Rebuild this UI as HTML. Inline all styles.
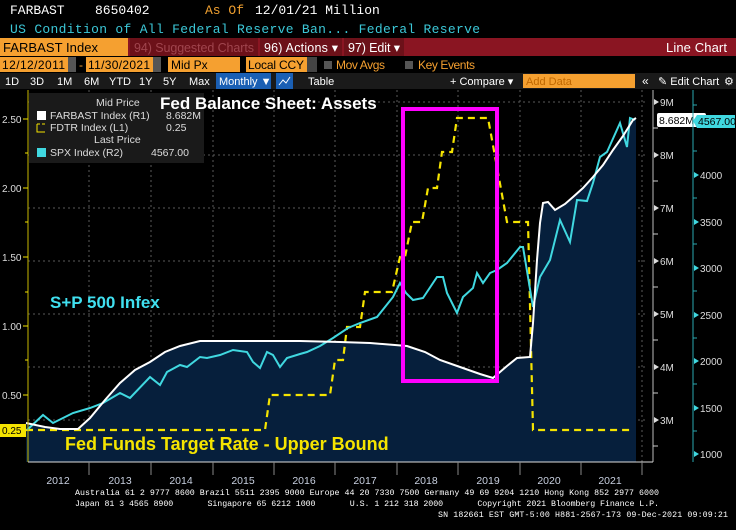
<!DOCTYPE html>
<html><head><meta charset="utf-8"><style>
html,body{margin:0;padding:0;background:#000;width:736px;height:530px;overflow:hidden}
svg{display:block}
.m{font-family:"Liberation Mono",monospace}
.s{font-family:"Liberation Sans",sans-serif}
</style></head><body>
<svg width="736" height="530" viewBox="0 0 736 530" xmlns="http://www.w3.org/2000/svg">
<rect width="736" height="530" fill="#000"/>
<text x="10" y="14" class="m" font-size="13" fill="#fff">FARBAST</text>
<text x="95" y="14" class="m" font-size="13" fill="#fff">8650402</text>
<text x="205" y="14" class="m" font-size="13" fill="#f0a030">As Of</text>
<text x="255" y="14" class="m" font-size="13" fill="#fff">12/01/21  Million</text>
<text x="10" y="33" class="m" font-size="13" fill="#3cc8d8" textLength="470">US Condition of All Federal Reserve Ban...  Federal Reserve</text>
<rect x="0" y="38" width="736" height="18" fill="#8a1522"/>
<rect x="0" y="38" width="128" height="18" fill="#f5a030"/>
<text x="3" y="52" class="s" font-size="13" fill="#000" textLength="95">FARBAST Index</text>
<rect x="130" y="38" width="128" height="18" fill="#6c1119"/>
<text x="134" y="52" class="s" font-size="12.5" fill="#a0454e" textLength="120">94) Suggested Charts</text>
<rect x="260" y="38" width="82" height="18" fill="#6c1119"/>
<text x="264" y="52" class="s" font-size="12.5" fill="#fff" textLength="74">96) Actions ▾</text>
<rect x="344" y="38" width="60" height="18" fill="#6c1119"/>
<text x="348" y="52" class="s" font-size="12.5" fill="#fff" textLength="52">97) Edit ▾</text>
<text x="666" y="52" class="s" font-size="13" fill="#fff" textLength="61">Line Chart</text>
<rect x="0" y="57" width="68" height="15" fill="#f5a030"/>
<text x="2" y="69" class="s" font-size="12" fill="#000" textLength="63">12/12/2011</text>
<rect x="68" y="57" width="8" height="15" fill="#555"/>
<text x="79" y="69" class="s" font-size="12" fill="#f5a030">-</text>
<rect x="86" y="57" width="67" height="15" fill="#f5a030"/>
<text x="88" y="69" class="s" font-size="12" fill="#000" textLength="62">11/30/2021</text>
<rect x="153" y="57" width="8" height="15" fill="#555"/>
<rect x="168" y="57" width="72" height="15" fill="#f5a030"/>
<text x="171" y="69" class="s" font-size="12" fill="#000">Mid Px</text>
<rect x="246" y="57" width="61" height="15" fill="#f5a030"/>
<text x="248" y="69" class="s" font-size="12" fill="#000" textLength="56">Local CCY</text>
<rect x="307" y="57" width="10" height="15" fill="#444"/>
<rect x="324" y="61" width="8" height="8" fill="#555"/>
<text x="336" y="69" class="s" font-size="12" fill="#f5a030" textLength="49">Mov Avgs</text>
<rect x="405" y="61" width="8" height="8" fill="#555"/>
<text x="418" y="69" class="s" font-size="12" fill="#f5a030" textLength="57">Key Events</text>
<rect x="0" y="73" width="736" height="16" fill="#1a1a1a"/>
<g class="s" font-size="11" fill="#fff">
<text x="5" y="85">1D</text><text x="30" y="85">3D</text><text x="57" y="85">1M</text><text x="84" y="85">6M</text>
<text x="109" y="85">YTD</text><text x="139" y="85">1Y</text><text x="163" y="85">5Y</text><text x="189" y="85">Max</text>
</g>
<rect x="216" y="73" width="55" height="16" fill="#1a5fb4"/>
<text x="219" y="85" class="s" font-size="11" fill="#fff">Monthly ▼</text>
<rect x="276" y="73" width="17" height="16" fill="#1a5fb4"/>
<polyline points="279,85 283,80 286,83 290,77" fill="none" stroke="#fff" stroke-width="1"/>
<text x="308" y="85" class="s" font-size="11" fill="#fff">Table</text>
<text x="450" y="85" class="s" font-size="11" fill="#fff">+ Compare ▾</text>
<rect x="523" y="74" width="112" height="14" fill="#f5a030"/>
<text x="526" y="85" class="s" font-size="11" fill="#c06800">Add Data</text>
<text x="642" y="85" class="s" font-size="12" fill="#fff">«</text>
<text x="658" y="85" class="s" font-size="11" fill="#fff">✎ Edit Chart</text>
<text x="724" y="85" class="s" font-size="11" fill="#fff">⚙</text>

<g stroke="#5a5a5a" stroke-width="1" stroke-dasharray="2,3">
<line x1="28" y1="102" x2="648" y2="102"/><line x1="28" y1="155" x2="648" y2="155"/>
<line x1="28" y1="208" x2="648" y2="208"/><line x1="28" y1="261" x2="648" y2="261"/>
<line x1="28" y1="314" x2="648" y2="314"/><line x1="28" y1="367" x2="648" y2="367"/>
<line x1="28" y1="420" x2="648" y2="420"/>
<line x1="89" y1="90" x2="89" y2="462"/><line x1="151" y1="90" x2="151" y2="462"/>
<line x1="213" y1="90" x2="213" y2="462"/><line x1="274" y1="90" x2="274" y2="462"/>
<line x1="335" y1="90" x2="335" y2="462"/><line x1="397" y1="90" x2="397" y2="462"/>
<line x1="458" y1="90" x2="458" y2="462"/><line x1="520" y1="90" x2="520" y2="462"/>
<line x1="581" y1="90" x2="581" y2="462"/><line x1="642" y1="90" x2="642" y2="462"/>
</g>

<polygon fill="#061f3c" points="26,423 45,427 60,429 78,429 90,418 105,400 120,383 135,370 150,362 165,352 180,346 200,341 230,341 260,341 300,341 340,342 370,343 407,346 425,352 440,360 460,367 480,374 493,378 500,372 507,366 517,358 530,357 533,323 537,260 540,223 543,203 548,202 555,210 565,204 573,197 583,188 593,177 603,165 613,150 623,136 633,120 636,118 636,462 26,462"/>

<polyline fill="none" stroke="#f5e400" stroke-width="2.2" stroke-dasharray="7,5" points="26,430 265,430 270,395 330,395 335,360 343,360 347,327 360,327 365,292 392,292 400,257 405,257 412,222 422,222 428,188 437,188 442,152 452,152 457,118 488,118 507,222 528,222 533,430 633,430"/>

<polyline fill="none" stroke="#40d8e0" stroke-width="2" points="27,430 43,415 53,423 73,413 90,408 103,403 120,393 130,398 150,377 160,385 167,372 180,365 187,367 200,357 207,358 220,355 233,350 247,352 253,362 260,368 267,352 273,355 280,367 287,358 300,354 307,352 320,346 333,338 348,328 360,323 377,317 393,297 400,283 406,293 413,300 423,298 437,277 443,277 447,293 457,313 463,297 473,288 477,273 483,283 490,273 497,270 507,263 520,247 523,247 533,307 540,277 550,260 560,220 570,242 577,200 587,201 593,183 600,157 607,152 620,123 627,147 630,118 635,120"/>

<polyline fill="none" stroke="#fff" stroke-width="2" points="26,423 45,427 60,429 78,429 90,418 105,400 120,383 135,370 150,362 165,352 180,346 200,341 230,341 260,341 300,341 340,342 370,343 407,346 425,352 440,360 460,367 480,374 493,378 500,372 507,366 517,358 530,357 533,323 537,260 540,223 543,203 548,202 555,210 565,204 573,197 583,188 593,177 603,165 613,150 623,136 633,120 636,118"/>

<rect x="403" y="109" width="94" height="272" fill="none" stroke="#ff00ff" stroke-width="4"/>

<!-- legend -->
<rect x="29" y="93" width="175" height="70" fill="#1a1a1a"/>
<g class="s" font-size="10.5" fill="#ddd">
<text x="96" y="106">Mid Price</text>
<rect x="37" y="111" width="9" height="9" fill="#fff"/>
<text x="50" y="119">FARBAST Index  (R1)</text><text x="166" y="119">8.682M</text>
<path d="M37,124 v8 h8 M37,124 h3 M42,124 h3" stroke="#f5e400" fill="none"/>
<text x="50" y="131">FDTR Index  (L1)</text><text x="166" y="131">0.25</text>
<text x="94" y="143">Last Price</text>
<rect x="37" y="148" width="9" height="9" fill="#40d8e0"/>
<text x="50" y="156">SPX Index  (R2)</text><text x="151" y="156">4567.00</text>
</g>

<text x="160" y="109" class="s" font-size="17" font-weight="bold" fill="#fff">Fed Balance Sheet: Assets</text>
<text x="50" y="308" class="s" font-size="17" font-weight="bold" fill="#40e0f0">S+P 500 Infex</text>
<text x="65" y="450" class="s" font-size="18" font-weight="bold" fill="#f5e400">Fed Funds Target Rate - Upper Bound</text>

<line x1="28" y1="90" x2="28" y2="462" stroke="#c8b800" stroke-width="1"/>
<g stroke="#f5e400"><line x1="23" y1="119" x2="28" y2="119"/><line x1="23" y1="188" x2="28" y2="188"/><line x1="23" y1="257" x2="28" y2="257"/><line x1="23" y1="326" x2="28" y2="326"/><line x1="23" y1="395" x2="28" y2="395"/>
<line x1="25" y1="153" x2="28" y2="153"/><line x1="25" y1="222" x2="28" y2="222"/><line x1="25" y1="292" x2="28" y2="292"/><line x1="25" y1="360" x2="28" y2="360"/></g>
<g class="s" font-size="10" fill="#ddd"><text x="2" y="123">2.50</text><text x="2" y="192">2.00</text><text x="2" y="261">1.50</text><text x="2" y="330">1.00</text><text x="2" y="399">0.50</text></g>
<rect x="0" y="424" width="26" height="13" fill="#f5e400"/>
<text x="2" y="434" class="s" font-size="10" fill="#000">0.25</text>

<line x1="653" y1="90" x2="653" y2="462" stroke="#bbb"/>
<g stroke="#ccc"><line x1="653" y1="128" x2="658" y2="128"/><line x1="653" y1="181" x2="658" y2="181"/><line x1="653" y1="234" x2="658" y2="234"/><line x1="653" y1="287" x2="658" y2="287"/><line x1="653" y1="340" x2="658" y2="340"/><line x1="653" y1="393" x2="658" y2="393"/><line x1="653" y1="446" x2="658" y2="446"/></g>
<g fill="#ddd"><path d="M654,99 l5,3 l-5,3z M654,152 l5,3 l-5,3z M654,205 l5,3 l-5,3z M654,258 l5,3 l-5,3z M654,311 l5,3 l-5,3z M654,364 l5,3 l-5,3z M654,417 l5,3 l-5,3z"/></g>
<g class="s" font-size="10" fill="#ddd"><text x="660" y="106">9M</text><text x="660" y="159">8M</text><text x="660" y="212">7M</text><text x="660" y="265">6M</text><text x="660" y="318">5M</text><text x="660" y="371">4M</text><text x="660" y="424">3M</text></g>
<rect x="657" y="113" width="49" height="14" fill="#fff" rx="2"/>
<text x="659" y="124" class="s" font-size="10.5" fill="#000">8.682M</text>
<line x1="693" y1="90" x2="693" y2="462" stroke="#2aa8b0"/>
<g stroke="#2aa8b0"><line x1="693" y1="105" x2="697" y2="105"/><line x1="693" y1="151" x2="697" y2="151"/><line x1="693" y1="198" x2="697" y2="198"/><line x1="693" y1="244" x2="697" y2="244"/><line x1="693" y1="291" x2="697" y2="291"/><line x1="693" y1="338" x2="697" y2="338"/><line x1="693" y1="384" x2="697" y2="384"/><line x1="693" y1="431" x2="697" y2="431"/></g>
<g fill="#40d8e0"><path d="M694,172 l5,3 l-5,3z M694,219 l5,3 l-5,3z M694,265 l5,3 l-5,3z M694,312 l5,3 l-5,3z M694,358 l5,3 l-5,3z M694,405 l5,3 l-5,3z M694,451 l5,3 l-5,3z"/></g>
<g class="s" font-size="10" fill="#ddd"><text x="700" y="179">4000</text><text x="700" y="226">3500</text><text x="700" y="272">3000</text><text x="700" y="319">2500</text><text x="700" y="365">2000</text><text x="700" y="412">1500</text><text x="700" y="458">1000</text></g>
<path d="M693,121 l4,-6 h38 v13 h-38z" fill="#40d8e0"/>
<text x="698" y="125" class="s" font-size="10.5" fill="#000">4567.00</text>

<line x1="28" y1="462" x2="653" y2="462" stroke="#ddd"/>
<g stroke="#888"><line x1="89" y1="462" x2="89" y2="475"/><line x1="151" y1="462" x2="151" y2="475"/><line x1="213" y1="462" x2="213" y2="475"/><line x1="274" y1="462" x2="274" y2="475"/><line x1="335" y1="462" x2="335" y2="475"/><line x1="397" y1="462" x2="397" y2="475"/><line x1="458" y1="462" x2="458" y2="475"/><line x1="520" y1="462" x2="520" y2="475"/><line x1="581" y1="462" x2="581" y2="475"/><line x1="642" y1="462" x2="642" y2="475"/></g>
<g class="s" font-size="10.5" fill="#c8d0e0" text-anchor="middle">
<text x="58" y="484">2012</text><text x="120" y="484">2013</text><text x="181" y="484">2014</text><text x="243" y="484">2015</text><text x="304" y="484">2016</text><text x="365" y="484">2017</text><text x="426" y="484">2018</text><text x="488" y="484">2019</text><text x="549" y="484">2020</text><text x="610" y="484">2021</text>
</g>
<g class="m" font-size="8.3" fill="#fff">
<text x="75" y="495" textLength="584">Australia 61 2 9777 8600 Brazil 5511 2395 9000 Europe 44 20 7330 7500 Germany 49 69 9204 1210 Hong Kong 852 2977 6000</text>
<text x="75" y="506" textLength="584" xml:space="preserve">Japan 81 3 4565 8900       Singapore 65 6212 1000       U.S. 1 212 318 2000       Copyright 2021 Bloomberg Finance L.P.</text>
<text x="438" y="517" textLength="290">SN 182661 EST  GMT-5:00 H881-2567-173 09-Dec-2021 09:09:21</text>
</g>
</svg>
</body></html>
